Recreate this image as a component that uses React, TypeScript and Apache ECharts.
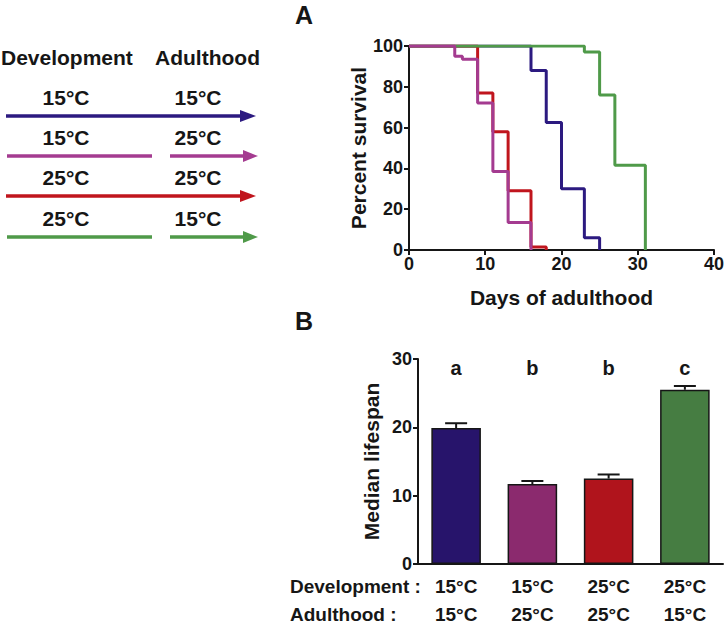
import React, { useEffect, useRef } from "react";
import * as echarts from "echarts";

const FONT = "'Liberation Sans', Arial, sans-serif";
const INK = "#161616";

// Legend / conditions
const devTemps = ["15°C", "15°C", "25°C", "25°C"];
const adultTemps = ["15°C", "25°C", "25°C", "15°C"];
const lineColors = ["#2c1a80", "#a43b90", "#c0151d", "#4f9a49"];
const barColors = ["#27146b", "#8b2a6e", "#b0141c", "#467d42"];

// Panel A: survival curves [day, percent]
const surv15_15 = [[0, 100], [16, 88], [18, 62.5], [20, 30], [23, 6], [25, 0]];
const surv15_25 = [[0, 100], [6, 95], [7, 93.5], [9, 72], [11, 38.5], [13, 13.5], [16, 0]];
const surv25_25 = [[0, 100], [9, 77], [11, 58], [13, 29], [16, 1.5], [18, 0]];
const surv25_15 = [[0, 100], [23, 97], [25, 76], [27, 41.5], [31, 0]];
const xTicksA = [0, 10, 20, 30, 40];

// Panel B: median lifespan
const medians = [19.9, 11.7, 12.5, 25.5];
const sems = [0.7, 0.45, 0.6, 0.55];
const letters = ["a", "b", "b", "c"];
const letterLevel = 28.7;

const categories = devTemps.map((d, i) => d + "\n" + adultTemps[i]);

export default function App() {
  const ref = useRef<HTMLDivElement>(null);
  useEffect(() => {
    if (!ref.current) return;
    const chart = echarts.init(ref.current, undefined, { renderer: "svg" });

    const axisLine = { show: true, onZero: false, lineStyle: { color: INK, width: 2 } };
    const axisTick = { show: true, length: 5, lineStyle: { color: INK, width: 2 } };
    const tickLabel = { color: INK, fontSize: 18, fontWeight: "bold", fontFamily: FONT };
    const nameStyle = { color: INK, fontSize: 21, fontWeight: "bold", fontFamily: FONT };

    const txt = (text: string, x: number, y: number, size: number, align = "left") => ({
      type: "text",
      x,
      y,
      silent: true,
      style: {
        text,
        fill: INK,
        fontSize: size,
        fontWeight: "bold",
        fontFamily: FONT,
        align,
        verticalAlign: "middle",
      },
    });

    const graphics: any[] = [];
    graphics.push(txt("A", 304, 15, 25, "center"));
    graphics.push(txt("B", 304, 321, 25, "center"));
    graphics.push(txt("Development", 1, 57, 21));
    graphics.push(txt("Adulthood", 155, 57, 21));
    graphics.push(txt("Development :", 290, 586, 19));
    graphics.push(txt("Adulthood :", 290, 614, 19));

    const rowY = [116, 156, 196, 237];
    const labelY = [97, 137, 177, 218];
    for (let i = 0; i < 4; i++) {
      const y = rowY[i];
      const c = lineColors[i];
      graphics.push(txt(devTemps[i], 66, labelY[i], 21, "center"));
      graphics.push(txt(adultTemps[i], 198, labelY[i], 21, "center"));
      const gap = devTemps[i] !== adultTemps[i];
      if (gap) {
        graphics.push({ type: "line", silent: true, shape: { x1: 7, y1: y, x2: 152, y2: y }, style: { stroke: c, lineWidth: 3.5 } });
        graphics.push({ type: "line", silent: true, shape: { x1: 170, y1: y, x2: 245, y2: y }, style: { stroke: c, lineWidth: 3.5 } });
        graphics.push({ type: "polygon", silent: true, shape: { points: [[243, y - 6], [258, y], [243, y + 6]] }, style: { fill: c } });
      } else {
        graphics.push({ type: "line", silent: true, shape: { x1: 6, y1: y, x2: 242, y2: y }, style: { stroke: c, lineWidth: 3.5 } });
        graphics.push({ type: "polygon", silent: true, shape: { points: [[240, y - 6], [256, y], [240, y + 6]] }, style: { fill: c } });
      }
    }

    const survSeries = [
      { data: surv15_15, color: lineColors[0] },
      { data: surv25_25, color: lineColors[2] },
      { data: surv25_15, color: lineColors[3] },
      { data: surv15_25, color: lineColors[1] },
    ].map((s, k) => ({
      type: "line",
      xAxisIndex: 0,
      yAxisIndex: 0,
      step: "end",
      showSymbol: false,
      symbol: "none",
      data: s.data,
      z: 2 + k,
      lineStyle: { color: s.color, width: 3 },
      itemStyle: { color: s.color },
    }));

    const option: any = {
      animation: false,
      backgroundColor: "#ffffff",
      textStyle: { fontFamily: FONT, fontWeight: "bold" },
      grid: [
        { left: 409, top: 46, width: 308, height: 204 },
        { left: 418, top: 359, width: 305, height: 205 },
      ],
      xAxis: [
        {
          gridIndex: 0,
          type: "value",
          min: xTicksA[0],
          max: xTicksA[xTicksA.length - 1],
          interval: 10,
          axisLine,
          axisTick,
          axisLabel: { ...tickLabel, margin: 5 },
          splitLine: { show: false },
          name: "Days of adulthood",
          nameLocation: "middle",
          nameGap: 37,
          nameTextStyle: nameStyle,
        },
        {
          gridIndex: 1,
          type: "category",
          data: categories,
          axisLine,
          axisTick: { show: false },
          axisLabel: { ...tickLabel, fontSize: 19, lineHeight: 28, margin: 8 },
          splitLine: { show: false },
        },
      ],
      yAxis: [
        {
          gridIndex: 0,
          type: "value",
          min: 0,
          max: 100,
          interval: 20,
          axisLine,
          axisTick,
          axisLabel: { ...tickLabel, margin: 6 },
          splitLine: { show: false },
          name: "Percent survival",
          nameLocation: "middle",
          nameGap: 34,
          nameTextStyle: nameStyle,
        },
        {
          gridIndex: 1,
          type: "value",
          min: 0,
          max: 30,
          interval: 10,
          axisLine,
          axisTick,
          axisLabel: { ...tickLabel, margin: 6 },
          splitLine: { show: false },
          name: "Median lifespan",
          nameLocation: "middle",
          nameGap: 36,
          nameTextStyle: nameStyle,
        },
      ],
      series: [
        ...survSeries,
        {
          type: "bar",
          xAxisIndex: 1,
          yAxisIndex: 1,
          barCategoryGap: "35%",
          data: medians.map((v, i) => ({
            value: v,
            itemStyle: { color: barColors[i], borderColor: INK, borderWidth: 1.5 },
          })),
          z: 2,
        },
        {
          type: "custom",
          xAxisIndex: 1,
          yAxisIndex: 1,
          z: 3,
          data: medians.map((v, i) => [i, v, v + sems[i]]),
          encode: { x: 0, y: [1, 2] },
          renderItem: (params: any, api: any) => {
            const base = api.coord([api.value(0), api.value(1)]);
            const top = api.coord([api.value(0), api.value(2)]);
            return {
              type: "group",
              children: [
                { type: "line", shape: { x1: base[0], y1: base[1], x2: top[0], y2: top[1] }, style: { stroke: INK, lineWidth: 2 } },
                { type: "line", shape: { x1: top[0] - 11, y1: top[1], x2: top[0] + 11, y2: top[1] }, style: { stroke: INK, lineWidth: 2 } },
              ],
            };
          },
        },
        {
          type: "custom",
          xAxisIndex: 1,
          yAxisIndex: 1,
          z: 4,
          data: letters.map((l, i) => [i, letterLevel]),
          encode: { x: 0, y: 1 },
          renderItem: (params: any, api: any) => {
            const p = api.coord([api.value(0), api.value(1)]);
            return {
              type: "text",
              x: p[0],
              y: p[1],
              style: {
                text: letters[params.dataIndex],
                fill: INK,
                fontSize: 20,
                fontWeight: "bold",
                fontFamily: FONT,
                align: "center",
                verticalAlign: "middle",
              },
            };
          },
        },
      ],
      graphic: graphics,
    };

    chart.setOption(option);
    return () => chart.dispose();
  }, []);

  return (
    <div
      ref={ref}
      style={{ position: "absolute", left: 0, top: 0, width: 727, height: 629, background: "#fff" }}
    />
  );
}
